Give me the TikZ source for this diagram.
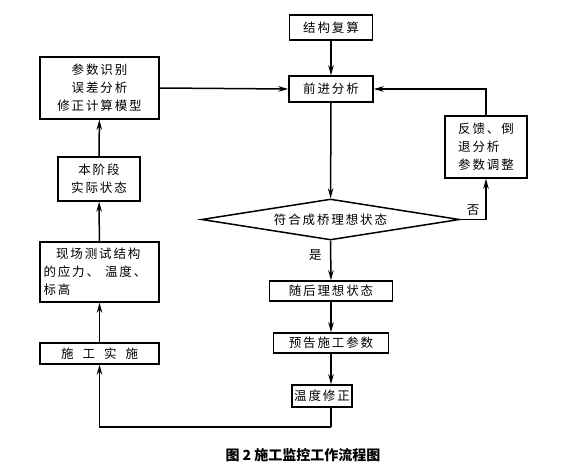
\documentclass[tikz,border=0pt]{standalone}
\usepackage{fontspec}
\setmainfont{Noto Sans CJK SC}[LetterSpace=15]
\usetikzlibrary{shapes.geometric,arrows.meta}
\begin{document}
\begin{tikzpicture}[x=1pt,y=-1pt,->,>={Stealth[length=10pt,width=5.5pt]},line width=1.5pt,
  font=\fontsize{12.5}{18}\selectfont,
  box/.style={draw,rectangle,inner sep=3pt,align=center}]
\useasboundingbox (0,0) rectangle (581,466);
% main column
\node[box,minimum width=83pt,minimum height=25pt] (jiegou) at (331,27.5) {结构复算};
\node[box,minimum width=84pt,minimum height=26pt] (qianjin) at (331,89) {前进分析};
\node[draw,diamond,aspect=6.3,minimum width=258pt,minimum height=41pt,inner sep=0pt] (fuhe) at (330.5,219.5) {符合成桥理想状态};
\node[box,minimum width=123pt,minimum height=20pt] (suihou) at (331,291) {随后理想状态};
\node[box,minimum width=115pt,minimum height=20pt] (yugao) at (331,343) {预告施工参数};
\node[box,minimum width=60pt,minimum height=22pt,inner sep=1pt] (wendu) at (322,396) {温度修正};
\node[box,minimum width=82pt,minimum height=62pt,align=left] (fankui) at (486,147) {反馈、倒\\退分析\\参数调整};
% left column
\node[box,minimum width=119pt,minimum height=62pt] (canshu) at (99.5,88) {参数识别\\误差分析\\修正计算模型};
\node[box,minimum width=82pt,minimum height=44pt] (jieduan) at (99,179) {本阶段\\实际状态};
\node[box,minimum width=119pt,minimum height=60pt,align=left,text width=112pt] (xianchang) at (99.5,272) {\hspace{1em}现场测试结构\\的应力、\hspace{6pt}温度、\\标高};
\node[box,minimum width=119pt,minimum height=21pt] (shigong) at (99.5,353.5) {施\hspace{9pt}工\hspace{9pt}实\hspace{9pt}施};
\coordinate (corner) at (331,427);
% connectors
\draw (jiegou) -- (qianjin);
\draw (qianjin) -- (fuhe);
\draw (canshu.east) -- (qianjin.west);
\draw (fuhe.east) -| node[pos=0.25,above]{否} (fankui.south);
\draw (fankui.north) |- (qianjin.east);
\draw (fuhe.south) -- node[pos=0.35,left=5pt]{是} (suihou.north);
\draw (suihou) -- (yugao);
\draw (yugao.south) -- (yugao.south |- wendu.north);
\draw[-] (wendu.south -| corner) -- (corner);
\draw (corner) -| (shigong.south);
\draw (shigong) -- (xianchang);
\draw (xianchang) -- (jieduan);
\draw (jieduan) -- (canshu);
% caption
\node[font=\fontsize{14}{16}\selectfont\bfseries\addfontfeature{LetterSpace=0}] (caption) at (303,455) {图 2 施工监控工作流程图};
\end{tikzpicture}
\end{document}
